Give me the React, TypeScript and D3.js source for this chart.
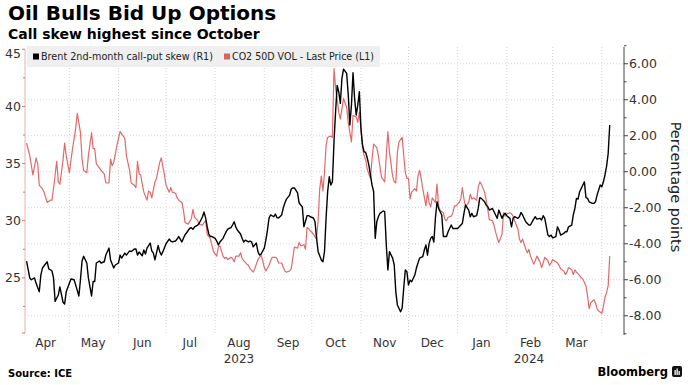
import React from 'react'
import * as d3 from 'd3'

// CO2 50D VOL - Last Price (left axis)
const co2Vol: [string, number][] = [
  ['2023-04-04', 36.8], ['2023-04-06', 35.7], ['2023-04-08', 34.0], ['2023-04-10', 35.5], ['2023-04-11', 35.0],
  ['2023-04-12', 33.1], ['2023-04-14', 32.8], ['2023-04-15', 32.5], ['2023-04-17', 31.6], ['2023-04-19', 31.8],
  ['2023-04-20', 31.8], ['2023-04-21', 32.8], ['2023-04-23', 35.2], ['2023-04-24', 33.4], ['2023-04-25', 33.2],
  ['2023-04-27', 35.3], ['2023-04-28', 36.8], ['2023-04-29', 35.7], ['2023-05-01', 34.2], ['2023-05-02', 35.3],
  ['2023-05-03', 36.3], ['2023-05-05', 38.1], ['2023-05-06', 39.4], ['2023-05-08', 37.7], ['2023-05-09', 35.4],
  ['2023-05-10', 34.4], ['2023-05-12', 34.2], ['2023-05-13', 35.7], ['2023-05-15', 37.7], ['2023-05-16', 36.3],
  ['2023-05-17', 36.3], ['2023-05-18', 35.0], ['2023-05-20', 34.6], ['2023-05-21', 34.4], ['2023-05-23', 34.1],
  ['2023-05-24', 33.3], ['2023-05-26', 33.3], ['2023-05-27', 35.4], ['2023-05-28', 34.8], ['2023-05-29', 35.1],
  ['2023-05-31', 36.6], ['2023-06-02', 37.8], ['2023-06-03', 37.6], ['2023-06-05', 37.2], ['2023-06-06', 35.7],
  ['2023-06-08', 34.4], ['2023-06-09', 33.3], ['2023-06-11', 33.1], ['2023-06-12', 32.9], ['2023-06-13', 35.2],
  ['2023-06-14', 34.1], ['2023-06-15', 34.0], ['2023-06-16', 33.2], ['2023-06-17', 32.5], ['2023-06-19', 31.8],
  ['2023-06-20', 32.6], ['2023-06-21', 32.5], ['2023-06-22', 32.0], ['2023-06-24', 33.4], ['2023-06-25', 33.7],
  ['2023-06-27', 35.1], ['2023-06-28', 35.5], ['2023-06-30', 34.0], ['2023-07-01', 33.1], ['2023-07-03', 32.5],
  ['2023-07-04', 32.9], ['2023-07-05', 32.5], ['2023-07-07', 32.4], ['2023-07-08', 32.0], ['2023-07-09', 31.8],
  ['2023-07-11', 31.6], ['2023-07-12', 30.9], ['2023-07-13', 29.85], ['2023-07-15', 29.7], ['2023-07-17', 30.2],
  ['2023-07-18', 31.0], ['2023-07-19', 30.3], ['2023-07-21', 30.0], ['2023-07-22', 29.7], ['2023-07-24', 29.6],
  ['2023-07-25', 29.85], ['2023-07-26', 30.0], ['2023-07-27', 28.8], ['2023-07-29', 28.4], ['2023-07-30', 27.8],
  ['2023-07-31', 27.3], ['2023-08-02', 26.9], ['2023-08-03', 27.7], ['2023-08-04', 27.8], ['2023-08-06', 26.9],
  ['2023-08-07', 26.7], ['2023-08-08', 26.8], ['2023-08-09', 26.6], ['2023-08-11', 26.8], ['2023-08-12', 26.7],
  ['2023-08-13', 26.4], ['2023-08-14', 26.9], ['2023-08-16', 26.9], ['2023-08-17', 27.2], ['2023-08-18', 26.7],
  ['2023-08-19', 26.5], ['2023-08-21', 26.2], ['2023-08-22', 26.1], ['2023-08-23', 25.8], ['2023-08-25', 25.5],
  ['2023-08-26', 25.8], ['2023-08-27', 26.2], ['2023-08-28', 26.6], ['2023-08-30', 27.0], ['2023-08-31', 26.5],
  ['2023-09-01', 25.9], ['2023-09-02', 25.6], ['2023-09-04', 26.1], ['2023-09-05', 26.5], ['2023-09-06', 26.8],
  ['2023-09-08', 26.8], ['2023-09-09', 26.7], ['2023-09-10', 26.3], ['2023-09-12', 26.3], ['2023-09-13', 25.9],
  ['2023-09-14', 25.6], ['2023-09-15', 25.5], ['2023-09-17', 25.6], ['2023-09-18', 25.8], ['2023-09-19', 26.7],
  ['2023-09-20', 27.7], ['2023-09-22', 27.6], ['2023-09-23', 28.1], ['2023-09-24', 27.8], ['2023-09-26', 27.9],
  ['2023-09-27', 27.5], ['2023-09-28', 29.4], ['2023-09-29', 29.3], ['2023-09-30', 29.1], ['2023-10-01', 29.0],
  ['2023-10-02', 28.8], ['2023-10-04', 28.4], ['2023-10-05', 30.1], ['2023-10-06', 32.8], ['2023-10-07', 33.9],
  ['2023-10-08', 32.6], ['2023-10-09', 34.2], ['2023-10-10', 36.6], ['2023-10-11', 37.3], ['2023-10-13', 37.4],
  ['2023-10-14', 37.3], ['2023-10-15', 43.3], ['2023-10-16', 41.6], ['2023-10-18', 39.5], ['2023-10-19', 38.9],
  ['2023-10-20', 39.8], ['2023-10-21', 40.7], ['2023-10-23', 39.9], ['2023-10-24', 38.6], ['2023-10-25', 37.7],
  ['2023-10-26', 36.9], ['2023-10-27', 39.2], ['2023-10-29', 39.1], ['2023-10-30', 38.6], ['2023-10-31', 39.5],
  ['2023-11-01', 38.0], ['2023-11-02', 36.4], ['2023-11-03', 35.7], ['2023-11-04', 35.3], ['2023-11-05', 34.5],
  ['2023-11-07', 33.7], ['2023-11-08', 35.4], ['2023-11-09', 36.7], ['2023-11-11', 36.4], ['2023-11-12', 35.7],
  ['2023-11-13', 34.7], ['2023-11-14', 33.8], ['2023-11-16', 33.4], ['2023-11-17', 35.7], ['2023-11-18', 37.8],
  ['2023-11-19', 36.0], ['2023-11-21', 33.9], ['2023-11-22', 33.4], ['2023-11-23', 33.3], ['2023-11-24', 36.0],
  ['2023-11-25', 36.9], ['2023-11-27', 37.3], ['2023-11-28', 35.7], ['2023-11-29', 34.2], ['2023-11-30', 33.7],
  ['2023-12-01', 33.7], ['2023-12-02', 31.9], ['2023-12-03', 32.5], ['2023-12-05', 32.8], ['2023-12-06', 32.6],
  ['2023-12-07', 33.9], ['2023-12-08', 34.4], ['2023-12-09', 33.7], ['2023-12-10', 32.8], ['2023-12-12', 31.3],
  ['2023-12-13', 32.5], ['2023-12-14', 31.6], ['2023-12-15', 31.2], ['2023-12-16', 32.0], ['2023-12-18', 31.6],
  ['2023-12-19', 33.2], ['2023-12-20', 31.3], ['2023-12-21', 30.9], ['2023-12-23', 30.7], ['2023-12-24', 30.1],
  ['2023-12-25', 30.0], ['2023-12-26', 30.3], ['2023-12-28', 30.4], ['2023-12-29', 30.7], ['2023-12-30', 31.3],
  ['2023-12-31', 31.3], ['2024-01-02', 31.6], ['2024-01-03', 31.9], ['2024-01-04', 32.9], ['2024-01-05', 31.9],
  ['2024-01-06', 31.2], ['2024-01-08', 31.6], ['2024-01-09', 32.3], ['2024-01-10', 31.9], ['2024-01-11', 32.0],
  ['2024-01-13', 31.8], ['2024-01-14', 32.9], ['2024-01-15', 33.4], ['2024-01-16', 33.2], ['2024-01-18', 32.5],
  ['2024-01-19', 31.8], ['2024-01-20', 31.0], ['2024-01-21', 30.1], ['2024-01-23', 30.0], ['2024-01-24', 29.6],
  ['2024-01-25', 29.0], ['2024-01-26', 28.5], ['2024-01-27', 28.1], ['2024-01-29', 28.8], ['2024-01-30', 30.7],
  ['2024-01-31', 30.4], ['2024-02-01', 30.6], ['2024-02-03', 30.7], ['2024-02-04', 30.6], ['2024-02-05', 30.4],
  ['2024-02-06', 30.0], ['2024-02-08', 29.3], ['2024-02-09', 28.4], ['2024-02-10', 28.1], ['2024-02-11', 28.4],
  ['2024-02-13', 27.5], ['2024-02-14', 27.2], ['2024-02-15', 27.5], ['2024-02-16', 26.9], ['2024-02-18', 26.2],
  ['2024-02-19', 26.5], ['2024-02-20', 26.9], ['2024-02-22', 26.4], ['2024-02-23', 25.9], ['2024-02-24', 26.3],
  ['2024-02-25', 26.8], ['2024-02-27', 26.5], ['2024-02-28', 26.1], ['2024-02-29', 26.3], ['2024-03-01', 26.6],
  ['2024-03-03', 26.4], ['2024-03-04', 26.3], ['2024-03-05', 26.1], ['2024-03-06', 25.8], ['2024-03-08', 25.6],
  ['2024-03-09', 25.3], ['2024-03-10', 25.5], ['2024-03-11', 25.9], ['2024-03-13', 25.7], ['2024-03-14', 25.3],
  ['2024-03-15', 25.7], ['2024-03-16', 25.5], ['2024-03-18', 25.2], ['2024-03-19', 25.0], ['2024-03-20', 24.9],
  ['2024-03-22', 24.3], ['2024-03-23', 23.4], ['2024-03-24', 22.3], ['2024-03-25', 22.8], ['2024-03-27', 23.1],
  ['2024-03-28', 22.8], ['2024-03-29', 22.3], ['2024-03-30', 22.1], ['2024-04-01', 21.9], ['2024-04-02', 22.5],
  ['2024-04-03', 23.3], ['2024-04-04', 23.7], ['2024-04-05', 24.3], ['2024-04-06', 26.9],
]

// Brent 2nd-month call-put skew (right axis)
const brentSkew: [string, number][] = [
  ['2023-04-04', -4.96], ['2023-04-06', -5.9], ['2023-04-07', -6.0], ['2023-04-09', -5.9], ['2023-04-10', -6.2],
  ['2023-04-12', -6.67], ['2023-04-13', -5.74], ['2023-04-14', -5.35], ['2023-04-17', -5.0], ['2023-04-18', -5.4],
  ['2023-04-20', -5.5], ['2023-04-21', -5.9], ['2023-04-22', -7.2], ['2023-04-24', -6.85], ['2023-04-25', -6.4],
  ['2023-04-27', -7.25], ['2023-04-28', -7.35], ['2023-04-29', -6.67], ['2023-05-01', -6.2], ['2023-05-02', -5.96],
  ['2023-05-04', -6.0], ['2023-05-05', -6.3], ['2023-05-07', -6.9], ['2023-05-08', -6.0], ['2023-05-09', -4.96],
  ['2023-05-10', -4.7], ['2023-05-12', -5.07], ['2023-05-13', -5.9], ['2023-05-15', -6.9], ['2023-05-16', -6.1],
  ['2023-05-17', -6.1], ['2023-05-18', -5.07], ['2023-05-20', -4.96], ['2023-05-21', -5.07], ['2023-05-23', -5.0],
  ['2023-05-24', -4.63], ['2023-05-26', -4.24], ['2023-05-27', -4.9], ['2023-05-29', -5.35], ['2023-05-30', -5.18],
  ['2023-06-01', -5.07], ['2023-06-02', -4.63], ['2023-06-03', -4.8], ['2023-06-05', -4.52], ['2023-06-06', -4.63],
  ['2023-06-08', -4.4], ['2023-06-09', -4.44], ['2023-06-11', -4.29], ['2023-06-12', -4.29], ['2023-06-13', -4.63],
  ['2023-06-14', -4.46], ['2023-06-16', -4.67], ['2023-06-17', -4.35], ['2023-06-18', -4.57], ['2023-06-19', -4.24],
  ['2023-06-21', -3.96], ['2023-06-22', -4.4], ['2023-06-23', -4.52], ['2023-06-24', -4.9], ['2023-06-26', -4.1],
  ['2023-06-27', -4.44], ['2023-06-28', -4.63], ['2023-06-29', -4.44], ['2023-07-01', -4.0], ['2023-07-03', -3.74],
  ['2023-07-04', -3.85], ['2023-07-05', -3.9], ['2023-07-07', -3.85], ['2023-07-08', -3.74], ['2023-07-09', -3.6],
  ['2023-07-11', -3.9], ['2023-07-12', -3.7], ['2023-07-13', -3.5], ['2023-07-14', -3.39], ['2023-07-16', -3.13],
  ['2023-07-17', -3.11], ['2023-07-18', -3.2], ['2023-07-19', -3.06], ['2023-07-21', -2.96], ['2023-07-22', -2.85],
  ['2023-07-23', -2.68], ['2023-07-24', -2.5], ['2023-07-25', -2.24], ['2023-07-26', -2.57], ['2023-07-27', -3.06],
  ['2023-07-28', -3.46], ['2023-07-29', -3.6], ['2023-07-30', -3.6], ['2023-08-01', -3.7], ['2023-08-02', -3.85],
  ['2023-08-03', -4.07], ['2023-08-04', -3.9], ['2023-08-06', -3.7], ['2023-08-07', -3.5], ['2023-08-08', -3.33],
  ['2023-08-09', -3.18], ['2023-08-11', -3.11], ['2023-08-12', -2.96], ['2023-08-13', -2.78], ['2023-08-14', -3.06],
  ['2023-08-15', -3.24], ['2023-08-17', -3.46], ['2023-08-18', -3.7], ['2023-08-19', -3.9], ['2023-08-20', -3.8],
  ['2023-08-22', -3.9], ['2023-08-23', -3.85], ['2023-08-24', -3.9], ['2023-08-25', -4.17], ['2023-08-27', -3.96],
  ['2023-08-28', -4.44], ['2023-08-29', -4.63], ['2023-08-30', -4.57], ['2023-09-01', -4.24], ['2023-09-02', -3.8],
  ['2023-09-03', -3.24], ['2023-09-04', -2.57], ['2023-09-05', -2.4], ['2023-09-07', -2.5], ['2023-09-08', -2.35],
  ['2023-09-09', -2.55], ['2023-09-10', -2.57], ['2023-09-12', -2.4], ['2023-09-13', -2.0], ['2023-09-14', -1.74],
  ['2023-09-15', -1.52], ['2023-09-17', -1.3], ['2023-09-18', -0.96], ['2023-09-19', -0.9], ['2023-09-20', -0.9],
  ['2023-09-22', -1.18], ['2023-09-23', -1.74], ['2023-09-24', -1.85], ['2023-09-25', -1.94], ['2023-09-26', -3.06],
  ['2023-09-28', -2.44], ['2023-09-29', -2.44], ['2023-09-30', -2.5], ['2023-10-02', -2.57], ['2023-10-03', -2.78],
  ['2023-10-04', -3.7], ['2023-10-05', -4.44], ['2023-10-07', -4.9], ['2023-10-08', -5.0], ['2023-10-09', -4.44],
  ['2023-10-10', -2.57], ['2023-10-11', -1.1], ['2023-10-12', -0.28], ['2023-10-13', -0.74], ['2023-10-14', -0.55],
  ['2023-10-15', 1.67], ['2023-10-16', 3.33], ['2023-10-17', 4.8], ['2023-10-18', 4.44], ['2023-10-19', 3.8],
  ['2023-10-20', 5.19], ['2023-10-21', 5.7], ['2023-10-23', 5.46], ['2023-10-24', 4.26], ['2023-10-25', 2.6],
  ['2023-10-26', 3.7], ['2023-10-27', 5.5], ['2023-10-28', 4.07], ['2023-10-29', 3.15], ['2023-10-30', 3.7],
  ['2023-10-31', 4.44], ['2023-11-01', 2.41], ['2023-11-02', 1.48], ['2023-11-03', 1.11], ['2023-11-04', 1.07],
  ['2023-11-05', 0.76], ['2023-11-06', 0.37], ['2023-11-07', -0.18], ['2023-11-08', -0.74], ['2023-11-09', -1.1],
  ['2023-11-10', -3.7], ['2023-11-11', -2.78], ['2023-11-12', -2.5], ['2023-11-13', -2.31], ['2023-11-15', -2.18],
  ['2023-11-16', -2.22], ['2023-11-17', -4.07], ['2023-11-18', -5.46], ['2023-11-19', -4.44], ['2023-11-21', -4.8],
  ['2023-11-22', -5.18], ['2023-11-23', -6.67], ['2023-11-24', -7.4], ['2023-11-26', -7.78], ['2023-11-27', -7.57],
  ['2023-11-28', -6.46], ['2023-11-29', -5.46], ['2023-11-30', -5.56], ['2023-12-01', -6.3], ['2023-12-02', -6.02],
  ['2023-12-03', -6.11], ['2023-12-05', -5.74], ['2023-12-06', -5.35], ['2023-12-07', -5.07], ['2023-12-08', -4.8],
  ['2023-12-10', -4.72], ['2023-12-11', -4.35], ['2023-12-12', -4.07], ['2023-12-13', -4.63], ['2023-12-14', -3.98],
  ['2023-12-15', -3.7], ['2023-12-16', -3.6], ['2023-12-17', -3.9], ['2023-12-18', -2.57], ['2023-12-19', -1.67],
  ['2023-12-20', -2.04], ['2023-12-22', -2.4], ['2023-12-23', -3.6], ['2023-12-24', -3.6], ['2023-12-25', -3.6],
  ['2023-12-26', -3.33], ['2023-12-28', -2.96], ['2023-12-29', -3.15], ['2023-12-31', -3.15], ['2024-01-01', -3.15],
  ['2024-01-02', -3.06], ['2024-01-04', -2.87], ['2024-01-05', -2.31], ['2024-01-06', -1.85], ['2024-01-08', -2.13],
  ['2024-01-09', -2.5], ['2024-01-10', -2.31], ['2024-01-11', -2.5], ['2024-01-13', -2.44], ['2024-01-14', -2.04],
  ['2024-01-15', -1.44], ['2024-01-16', -1.48], ['2024-01-18', -1.67], ['2024-01-19', -1.85], ['2024-01-20', -1.94],
  ['2024-01-21', -2.13], ['2024-01-23', -2.04], ['2024-01-24', -2.22], ['2024-01-25', -2.4], ['2024-01-26', -2.59],
  ['2024-01-27', -2.13], ['2024-01-29', -2.59], ['2024-01-30', -2.4], ['2024-01-31', -2.31], ['2024-02-01', -2.44],
  ['2024-02-03', -2.59], ['2024-02-04', -3.06], ['2024-02-05', -2.59], ['2024-02-06', -2.5], ['2024-02-08', -2.59],
  ['2024-02-09', -2.5], ['2024-02-10', -2.26], ['2024-02-11', -2.4], ['2024-02-13', -2.78], ['2024-02-14', -2.87],
  ['2024-02-15', -2.96], ['2024-02-16', -2.96], ['2024-02-18', -2.63], ['2024-02-19', -2.5], ['2024-02-20', -2.63],
  ['2024-02-22', -2.59], ['2024-02-23', -2.68], ['2024-02-24', -2.44], ['2024-02-25', -2.59], ['2024-02-27', -3.52],
  ['2024-02-28', -3.6], ['2024-02-29', -3.52], ['2024-03-01', -3.67], ['2024-03-03', -3.6], ['2024-03-04', -3.06],
  ['2024-03-05', -3.24], ['2024-03-06', -3.52], ['2024-03-08', -3.43], ['2024-03-09', -3.33], ['2024-03-10', -3.33],
  ['2024-03-11', -3.06], ['2024-03-13', -2.96], ['2024-03-14', -2.4], ['2024-03-15', -2.04], ['2024-03-16', -1.48],
  ['2024-03-17', -1.52], ['2024-03-18', -1.11], ['2024-03-19', -0.93], ['2024-03-21', -0.56], ['2024-03-22', -1.44],
  ['2024-03-23', -1.48], ['2024-03-24', -1.67], ['2024-03-26', -1.76], ['2024-03-27', -1.76], ['2024-03-28', -1.67],
  ['2024-03-29', -1.3], ['2024-03-31', -0.74], ['2024-04-01', -0.83], ['2024-04-02', -0.56], ['2024-04-03', -0.18],
  ['2024-04-04', 0.3], ['2024-04-05', 1.0], ['2024-04-06', 2.6],
]

const leftTicks = [20, 25, 30, 35, 40, 45]
const leftLabels = [25, 30, 35, 40, 45]
const rightTicks = [-8, -6, -4, -2, 0, 2, 4, 6]
const yearLabels: [string, string][] = [['2023', '2023-08-16'], ['2024', '2024-02-15']]

const FONT = '"DejaVu Sans", Verdana, sans-serif'
const X0 = 25, X1 = 624, YT = 47, YB = 335

const parse = d3.timeParse('%Y-%m-%d')

export default function App() {
  const x = d3.scaleTime()
    .domain([new Date(2023, 3, 3), new Date(2024, 3, 15)])
    .range([X0, X1])
  const yL = d3.scaleLinear().domain([20, 45.2]).range([YB, YT])
  const yR = d3.scaleLinear().domain([-9.07, 6.93]).range([YB, YT])

  const lineL = d3.line<[string, number]>()
    .x(d => x(parse(d[0]) as Date))
    .y(d => yL(d[1]))
  const lineR = d3.line<[string, number]>()
    .x(d => x(parse(d[0]) as Date))
    .y(d => yR(d[1]))

  const gridMonths = d3.timeMonth.range(new Date(2023, 4, 1), new Date(2024, 3, 2))
  const labelMonths = d3.timeMonth.range(new Date(2023, 3, 1), new Date(2024, 3, 1))
  const fmtMonth = d3.timeFormat('%b')

  const leftMinor = leftTicks.slice(0, -1).map(t => t + 2.5)
  const rightMinor = d3.range(-9, 8, 2)

  return (
    <>
      <style>{'body{margin:0}'}</style>
      <svg width={688} height={385} style={{ display: 'block', background: '#fff' }} fontFamily={FONT}>
        <text x={8} y={20} fontSize={20} fontWeight="bold" fill="#000">Oil Bulls Bid Up Options</text>
        <text x={8} y={38.5} fontSize={14} fontWeight="bold" fill="#000">Call skew highest since October</text>

        {/* grid */}
        {rightTicks.map(t => (
          <line key={'h' + t} x1={X0} x2={X1} y1={yR(t)} y2={yR(t)} stroke="#d4d4d4" strokeDasharray="1,2" />
        ))}
        {gridMonths.map(m => (
          <line key={'v' + m.getTime()} x1={x(m)} x2={x(m)} y1={YT} y2={YB} stroke="#d4d4d4" strokeDasharray="1,2" />
        ))}

        {/* legend */}
        <rect x={27} y={46} width={353} height={21} fill="#efefef" />
        <rect x={33} y={53.5} width={6} height={6} fill="#000" />
        <text x={41} y={60} fontSize={10.5} fill="#222" textLength={172} lengthAdjust="spacingAndGlyphs">Brent 2nd-month call-put skew (R1)</text>
        <rect x={224} y={53.5} width={6} height={6} fill="#e06060" />
        <text x={232} y={60} fontSize={10.5} fill="#222" textLength={142} lengthAdjust="spacingAndGlyphs">CO2 50D VOL - Last Price (L1)</text>

        {/* left axis */}
        <line x1={X0} x2={X0} y1={YT + 3} y2={YB - 2} stroke="#eab0b0" />
        {leftTicks.map(t => (
          <line key={'l' + t} x1={X0 - 3} x2={X0} y1={Math.min(yL(t), YB - 2)} y2={Math.min(yL(t), YB - 2)} stroke="#e07070" />
        ))}
        {leftLabels.map(t => (
          <text key={'ll' + t} x={21} y={Math.max(yL(t), 54)} dy="0.35em" textAnchor="end" fontSize={12.5} fill="#333">{t}</text>
        ))}
        {leftMinor.map(t => (
          <line key={'lm' + t} x1={X0 - 2} x2={X0} y1={yL(t)} y2={yL(t)} stroke="#e07070" />
        ))}

        {/* right axis */}
        <line x1={X1} x2={X1} y1={YT} y2={YB} stroke="#444" />
        {rightTicks.map(t => (
          <g key={'r' + t}>
            <line x1={X1} x2={X1 + 4} y1={yR(t)} y2={yR(t)} stroke="#444" />
            <text x={629} y={yR(t)} dy="0.35em" fontSize={12.5} fill="#333">{t.toFixed(2)}</text>
          </g>
        ))}
        {rightMinor.map(t => (
          <line key={'rm' + t} x1={X1} x2={X1 + 2.5} y1={yR(t)} y2={yR(t)} stroke="#444" />
        ))}
        <text transform="translate(671,187) rotate(90)" textAnchor="middle" fontSize={14.5} fill="#222">Percentage points</text>

        {/* x labels */}
        {labelMonths.map(m => (
          <text key={'m' + m.getTime()} x={x(d3.timeDay.offset(m, 15))} y={347} textAnchor="middle" fontSize={12} fill="#333">
            {fmtMonth(m)}
          </text>
        ))}
        {yearLabels.map(([lab, d]) => (
          <text key={lab} x={x(parse(d) as Date)} y={363} textAnchor="middle" fontSize={12} fill="#333">{lab}</text>
        ))}

        {/* series */}
        <path d={lineL(co2Vol) || ''} fill="none" stroke="#e06a6a" strokeWidth={1.2} strokeLinejoin="round" />
        <path d={lineR(brentSkew) || ''} fill="none" stroke="#000" strokeWidth={1.4} strokeLinejoin="round" />

        {/* footer */}
        <text x={8} y={377} fontSize={10} fontWeight="bold" fill="#000">Source: ICE</text>
        <text x={668} y={376} textAnchor="end" fontSize={11.5} fontWeight="bold" fill="#000">Bloomberg</text>
        <rect x={672} y={366} width={10} height={11} rx={2} fill="#111" />
        <rect x={674.5} y={370} width={1.3} height={5} fill="#fff" />
        <rect x={676.5} y={368.5} width={1.3} height={6.5} fill="#fff" />
        <rect x={678.5} y={371} width={1.3} height={4} fill="#fff" />
      </svg>
    </>
  )
}
